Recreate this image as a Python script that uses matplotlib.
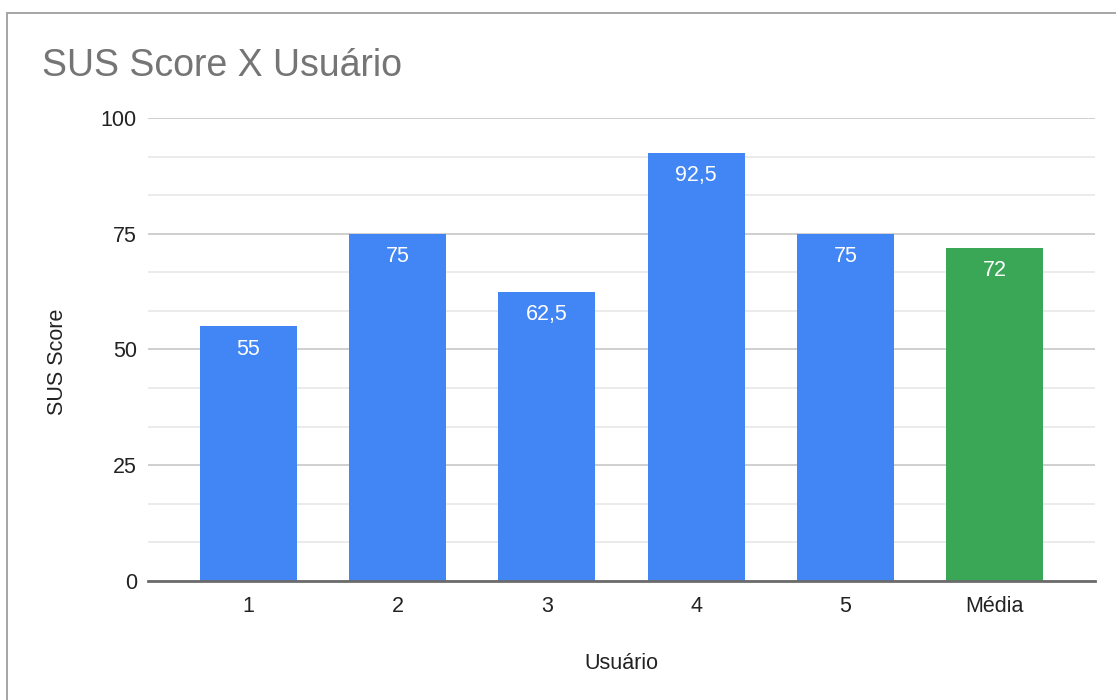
import matplotlib.pyplot as plt
from matplotlib.patches import Rectangle
from matplotlib.ticker import MultipleLocator

plt.rcParams["font.family"] = ["Liberation Sans", "DejaVu Sans"]

# SUS scores per user, plus the overall mean
users = ["1", "2", "3", "4", "5", "Média"]
scores = [55, 75, 62.5, 92.5, 75, 72]
score_labels = ["55", "75", "62,5", "92,5", "75", "72"]
bar_colors = ["#4285f4", "#4285f4", "#4285f4", "#4285f4", "#4285f4", "#3aa757"]

fig = plt.figure(figsize=(11.16, 7), dpi=100)
ax = fig.add_axes([148 / 1116, 1 - 581 / 700, 947 / 1116, 463 / 700])

# frame around the chart card
fig.patches.append(Rectangle((7 / 1116, -0.05), 1.2, 1 - 12.5 / 700 + 0.05,
                             transform=fig.transFigure, fill=False,
                             edgecolor="#9e9e9e", linewidth=1.3))

x = list(range(len(users)))
bars = ax.bar(x, scores, width=0.65, color=bar_colors, zorder=3)

for xi, v, lab in zip(x, scores, score_labels):
    ax.annotate(lab, (xi, v), xytext=(0, -9), textcoords="offset points",
                ha="center", va="top", color="white", fontsize=15.5, zorder=4)

ax.set_xlim(-0.67, len(users) - 1 + 0.67)
ax.set_ylim(0, 100)
ax.yaxis.set_major_locator(MultipleLocator(25))
ax.yaxis.set_minor_locator(MultipleLocator(25 / 3))
ax.grid(axis="y", which="major", color="#cccccc", linewidth=1.3, zorder=0)
ax.grid(axis="y", which="minor", color="#e6e6e6", linewidth=1.1, zorder=0)
ax.set_axisbelow(True)

for side in ["top", "right", "left"]:
    ax.spines[side].set_visible(False)
ax.spines["bottom"].set_color("#6b6b6b")
ax.spines["bottom"].set_linewidth(2)
ax.spines["bottom"].set_zorder(5)

ax.set_xticks(x)
ax.set_xticklabels(users)
ax.tick_params(axis="both", which="both", length=0, labelsize=15.5,
               labelcolor="#222222")
ax.tick_params(axis="x", pad=10.5)
ax.tick_params(axis="y", pad=8)

ax.set_xlabel("Usuário", fontsize=15.5, color="#222222", labelpad=26)
ax.set_ylabel("SUS Score", fontsize=15.5, color="#222222")
ax.yaxis.set_label_coords(-0.085, 0.473)

fig.text(42 / 1116, 1 - 66 / 700, "SUS Score X Usuário", fontsize=27,
         color="#757575", va="center", ha="left")

fig.savefig("out.png", dpi=100)
